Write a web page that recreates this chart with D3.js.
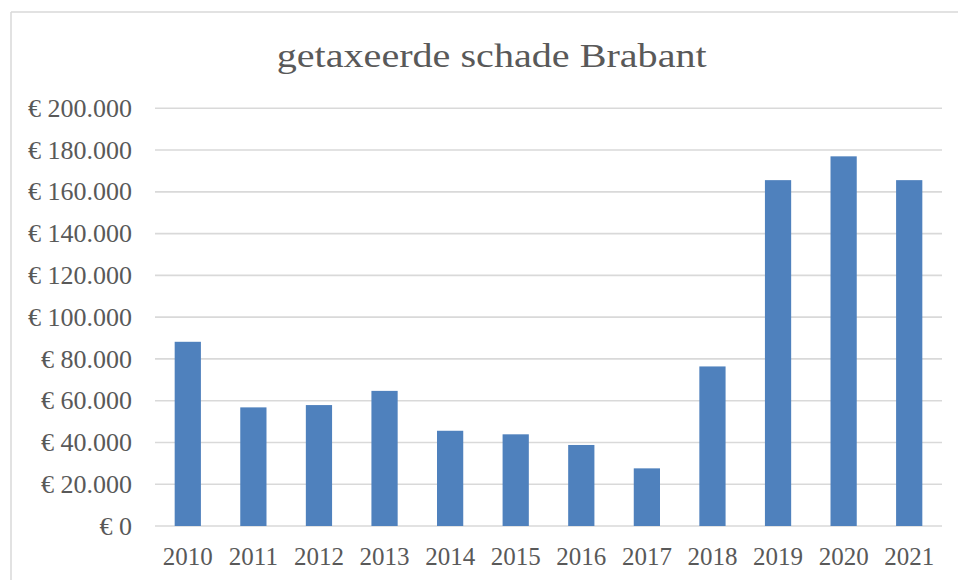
<!DOCTYPE html>
<html>
<head>
<meta charset="utf-8">
<script src="https://cdn.jsdelivr.net/npm/d3@7"></script>
<style>
  html, body { margin: 0; padding: 0; background: #fff; }
  svg { display: block; }
</style>
</head>
<body>
<svg id="chart" width="958" height="580"></svg>
<script>
const title = "getaxeerde schade Brabant";
const years = ["2010","2011","2012","2013","2014","2015","2016","2017","2018","2019","2020","2021"];
const values = [88200, 56800, 57900, 64700, 45600, 43900, 38800, 27600, 76400, 165600, 177000, 165600];
const yTicks = [0, 20000, 40000, 60000, 80000, 100000, 120000, 140000, 160000, 180000, 200000];

const svg = d3.select("#chart");
const textColor = "#595959";
const gridColor = "#d9d9d9";
const font = "'Liberation Serif', 'Times New Roman', serif";

// outer chart border (top and left visible)
svg.append("line").attr("x1", 11).attr("x2", 958).attr("y1", 12).attr("y2", 12)
  .attr("stroke", gridColor).attr("stroke-width", 1.5);
svg.append("line").attr("x1", 11).attr("x2", 11).attr("y1", 12).attr("y2", 580)
  .attr("stroke", gridColor).attr("stroke-width", 1.5);

const x = d3.scaleBand().domain(years).range([155, 942]).paddingInner(0.6).paddingOuter(0.3);
const y = d3.scaleLinear().domain([0, 200000]).range([526, 108.3]);

const fmt = v => "€ " + d3.format(",")(v).replace(/,/g, ".");

// gridlines
svg.append("g").selectAll("line").data(yTicks).join("line")
  .attr("x1", 155).attr("x2", 942)
  .attr("y1", d => y(d)).attr("y2", d => y(d))
  .attr("stroke", gridColor).attr("stroke-width", 1.6);

// y labels
svg.append("g").selectAll("text").data(yTicks).join("text")
  .attr("x", 132).attr("y", d => y(d) + 8.6)
  .attr("text-anchor", "end")
  .attr("font-family", font).attr("font-size", 26)
  .attr("fill", textColor)
  .text(d => d === 0 ? "€ 0" : fmt(d));

// bars
svg.append("g").selectAll("rect").data(values).join("rect")
  .attr("x", (d, i) => x(years[i]))
  .attr("width", x.bandwidth())
  .attr("y", d => y(d))
  .attr("height", d => y(0) - y(d))
  .attr("fill", "#4f81bd");

// x labels
svg.append("g").selectAll("text").data(years).join("text")
  .attr("x", d => x(d) + x.bandwidth() / 2)
  .attr("y", 565)
  .attr("text-anchor", "middle")
  .attr("font-family", font).attr("font-size", 25)
  .attr("fill", textColor)
  .text(d => d);

// title
svg.append("text")
  .attr("x", 491.7).attr("y", 66.7)
  .attr("text-anchor", "middle")
  .attr("font-family", font).attr("font-size", 33)
  .attr("textLength", 430).attr("lengthAdjust", "spacingAndGlyphs")
  .attr("fill", textColor)
  .text(title);
</script>
</body>
</html>
